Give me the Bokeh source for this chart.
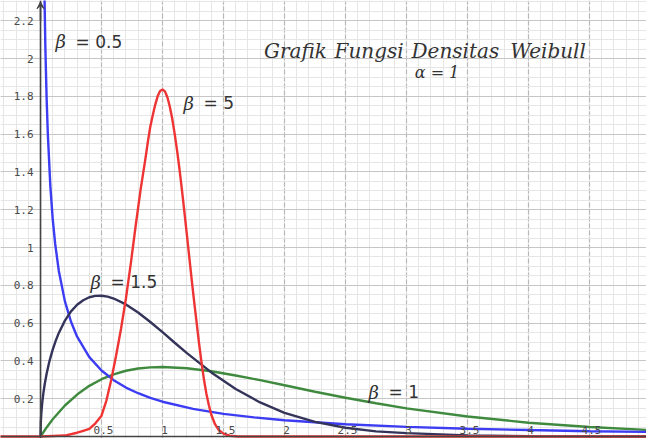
from bokeh.plotting import figure
from bokeh.models import SingleIntervalTicker, Arrow, VeeHead, Range1d, Span, ColumnDataSource
from bokeh.core.properties import value
from bokeh.embed import file_html
from bokeh.resources import INLINE

# ---- data ----
x_b05 = [0.02, 0.025, 0.03, 0.04, 0.05, 0.06, 0.08, 0.1, 0.12, 0.15, 0.2, 0.25, 0.3, 0.4, 0.5,
         0.6, 0.7, 0.8, 0.9, 1.0, 1.25, 1.5, 1.75, 2.0, 2.5, 3.0, 3.5, 4.0, 4.5, 5.0]
y_b05 = [3.07, 2.70, 2.43, 2.05, 1.79, 1.60, 1.33, 1.15, 1.02, 0.876, 0.715, 0.607, 0.528, 0.420, 0.349,
         0.298, 0.259, 0.229, 0.204, 0.184, 0.146, 0.120, 0.101, 0.086, 0.065, 0.051, 0.041, 0.034, 0.028, 0.024]

x_b1 = [0, 0.05, 0.1, 0.2, 0.3, 0.4, 0.5, 0.6, 0.7, 0.8, 0.9, 1.0, 1.2, 1.4, 1.6, 1.8, 2.0,
        2.25, 2.5, 2.75, 3.0, 3.5, 4.0, 4.5, 5.0]
y_b1 = [0, 0.048, 0.091, 0.164, 0.222, 0.268, 0.303, 0.329, 0.348, 0.360, 0.366, 0.368, 0.361, 0.345,
        0.323, 0.298, 0.271, 0.237, 0.205, 0.176, 0.149, 0.106, 0.073, 0.050, 0.034]

x_b15 = [0, 0.0025, 0.005, 0.01, 0.015, 0.02, 0.025, 0.035, 0.05, 0.065, 0.075, 0.1, 0.125, 0.15,
         0.2, 0.25, 0.3, 0.35, 0.4, 0.45, 0.5, 0.55, 0.6, 0.7, 0.8, 0.9, 1.0, 1.1, 1.2, 1.4, 1.6,
         1.8, 2.0, 2.25, 2.5, 2.75, 3.0, 3.5, 4.0, 5.0]
y_b15 = [0, 0.075, 0.106, 0.150, 0.184, 0.211, 0.237, 0.279, 0.332, 0.376, 0.403, 0.460, 0.507,
         0.548, 0.613, 0.662, 0.697, 0.721, 0.737, 0.744, 0.745, 0.740, 0.730, 0.699, 0.656, 0.606,
         0.552, 0.496, 0.441, 0.339, 0.251, 0.180, 0.125, 0.077, 0.046, 0.027, 0.018, 0.006, 0.002, 0.0]

x_b5 = [-0.35, 0, 0.2, 0.3, 0.35, 0.40, 0.45, 0.50, 0.54, 0.58, 0.62, 0.66, 0.70, 0.74, 0.78,
        0.82, 0.86, 0.88, 0.90, 0.92, 0.94, 0.96, 0.98, 1.00, 1.02, 1.04, 1.06, 1.08, 1.10, 1.12,
        1.14, 1.16, 1.18, 1.20, 1.22, 1.24, 1.26, 1.28, 1.30, 1.32, 1.34, 1.36, 1.38, 1.40, 1.43,
        1.46, 1.50, 1.55, 1.62, 5.0]
y_b5 = [0, 0, 0.005, 0.02, 0.03, 0.04, 0.07, 0.11, 0.19, 0.30, 0.43, 0.57, 0.73, 0.915, 1.115,
        1.305, 1.47, 1.56, 1.64, 1.70, 1.755, 1.80, 1.828, 1.836, 1.826, 1.795, 1.745, 1.68, 1.60,
        1.51, 1.41, 1.30, 1.185, 1.065, 0.945, 0.825, 0.71, 0.60, 0.49, 0.39, 0.30, 0.225, 0.165,
        0.115, 0.065, 0.035, 0.015, 0.004, 0, 0]

x_ticks = [0.5, 1, 1.5, 2, 2.5, 3, 3.5, 4, 4.5]
x_labels = ["0.5", "1", "1.5", "2", "2.5", "3", "3.5", "4", "4.5"]
y_ticks = [0.2, 0.4, 0.6, 0.8, 1.0, 1.2, 1.4, 1.6, 1.8, 2.0, 2.2]
y_labels = ["0.2", "0.4", "0.6", "0.8", "1", "1.2", "1.4", "1.6", "1.8", "2", "2.2"]

beta_vals = ["0.5", "5", "1.5", "1"]
beta_lx = [0.123, 1.172, 0.41, 2.689]
beta_ly = [2.090, 1.762, 0.815, 0.233]

title_words = ["Grafik", "Fungsi", "Densitas", "Weibull"]
title_wx = [2.090, 2.693, 3.400, 4.160]
title_y = 2.042
sub_text = "α = 1"
sub_x = 3.25
sub_y = 1.926

# ---- figure ----
p = figure(width=646, height=438, x_range=Range1d(-0.328, 4.967), y_range=Range1d(-0.0106, 2.307),
           output_backend="svg", toolbar_location=None, min_border=0)
p.min_border_left = p.min_border_right = p.min_border_top = p.min_border_bottom = 0
p.axis.visible = False
p.outline_line_color = None
p.background_fill_color = "white"
p.border_fill_color = "white"

p.xgrid.ticker = SingleIntervalTicker(interval=0.5, num_minor_ticks=5)
p.ygrid.ticker = SingleIntervalTicker(interval=0.2, num_minor_ticks=4)
p.xgrid.grid_line_color = "#b8b8b8"
p.xgrid.grid_line_dash = "5 2"
p.xgrid.grid_line_width = 1.2
p.xgrid.minor_grid_line_color = "#e6e6e6"
p.ygrid.grid_line_color = "#c6c6c6"
p.ygrid.grid_line_width = 1.2
p.ygrid.minor_grid_line_color = "#e6e6e6"

# axes lines
p.add_layout(Span(location=0, dimension="height", line_color="#444444", line_width=1.6))
p.add_layout(Span(location=0, dimension="width", line_color="#444444", line_width=1.6))
p.add_layout(Arrow(end=VeeHead(size=7, fill_color="#444444", line_color="#444444"),
                   x_start=0, y_start=2.2, x_end=0, y_end=2.3,
                   line_color="#444444", line_width=1.6))

# curves
p.line(x_b1, y_b1, line_color="#3f8a3f", line_width=2.4)
p.line(x_b05, y_b05, line_color="#3c3cf2", line_width=2.4)
p.line(x_b15, y_b15, line_color="#34345a", line_width=2.4)
p.line(x_b5, y_b5, line_color="#ee3434", line_width=2.4)

# tick labels
mono = value("DejaVu Sans Mono")
p.text(x=x_ticks, y=[0] * len(x_ticks), text=x_labels, text_align="center", text_baseline="middle",
       x_offset=2, y_offset=-6, text_font=mono, text_font_size="11px", text_color="#4a4a4a")
p.text(x=[0] * len(y_ticks), y=y_ticks, text=y_labels, text_align="right", text_baseline="middle",
       x_offset=-7, y_offset=0, text_font=mono, text_font_size="11px", text_color="#4a4a4a")

# beta labels
src = ColumnDataSource(dict(x=beta_lx, y=beta_ly, b=["β"] * len(beta_vals),
                            eq=["= " + v for v in beta_vals]))
p.text(x="x", y="y", text="b", source=src, text_align="left", text_baseline="middle",
       text_font=value("DejaVu Serif"), text_font_style="italic", text_font_size="18px",
       text_color="#333333")
p.text(x="x", y="y", text="eq", source=src, text_align="left", text_baseline="middle",
       x_offset=20, text_font=value("DejaVu Sans"), text_font_size="17px", text_color="#333333")

# title
p.text(x=title_wx, y=[title_y] * len(title_words), text=title_words, text_align="center",
       text_baseline="middle", text_font=value("DejaVu Serif"), text_font_style="italic",
       text_font_size="20px", text_color="#333333")
p.text(x=[sub_x], y=[sub_y], text=[sub_text], text_align="center", text_baseline="middle",
       text_font=value("DejaVu Serif"), text_font_style="italic", text_font_size="16px",
       text_color="#333333")

open("out.html", "w").write(file_html(p, INLINE))
